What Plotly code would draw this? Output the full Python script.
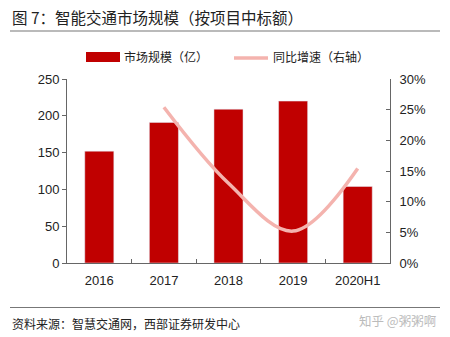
import plotly.graph_objects as go

categories = ["2016", "2017", "2018", "2019", "2020H1"]
market_size = [152, 191, 209, 220, 104]
growth_cats = ["2017", "2018", "2019", "2020H1"]
growth_rate = [25.4, 13.0, 5.2, 15.4]
left_ticks = [0, 50, 100, 150, 200, 250]
right_ticks = [0, 5, 10, 15, 20, 25, 30]
right_labels = [f"{v}%" for v in right_ticks]

BAR = "#C00000"
LINE = "#F4B3AE"
NUM_FONT = "Liberation Sans, Arial, sans-serif"
CJK = "Noto Sans CJK SC, sans-serif"

fig = go.Figure()
fig.add_trace(go.Bar(x=categories, y=market_size, marker_color=BAR, width=0.45,
                     name="市场规模（亿）", yaxis="y"))
fig.add_trace(go.Scatter(x=growth_cats, y=growth_rate, mode="lines",
                         line=dict(color=LINE, width=3.5, shape="spline", smoothing=1.0),
                         name="同比增速（右轴）", yaxis="y2"))

fig.update_layout(
    width=450, height=337,
    margin=dict(l=67, r=60, t=79, b=74),
    paper_bgcolor="white", plot_bgcolor="white",
    showlegend=False,
    font=dict(family=NUM_FONT, size=13, color="#222"),
    xaxis=dict(type="category", range=[-0.5, 4.5], showline=True, linecolor="#666",
               linewidth=1, ticks="inside", ticklen=4, tickcolor="#666",
               tickson="boundaries", showgrid=False, ticklabelstandoff=5,
               tickfont=dict(size=13, color="#222")),
    yaxis=dict(range=[0, 250], tickvals=left_ticks, showline=True, linecolor="#666",
               linewidth=1, ticks="outside", ticklen=4, tickcolor="#666",
               showgrid=False, zeroline=False, tickfont=dict(size=13, color="#222")),
    yaxis2=dict(range=[0, 30], tickvals=right_ticks, ticktext=right_labels,
                overlaying="y", side="right", showline=True, linecolor="#666",
                linewidth=1, ticks="inside", ticklen=4, tickcolor="#666",
                showgrid=False, zeroline=False, ticklabelstandoff=6,
                tickfont=dict(size=13, color="#222")),
)

shapes = [
    dict(type="line", xref="paper", yref="paper", x0=-57/323, x1=373/323, y0=(263-31)/184, y1=(263-31)/184,
         line=dict(color="#777", width=1.2)),
    dict(type="line", xref="paper", yref="paper", x0=-57/323, x1=373/323, y0=(263-307.5)/184, y1=(263-307.5)/184,
         line=dict(color="#777", width=1.2)),
    dict(type="rect", xref="paper", yref="paper", x0=(86-67)/323, x1=(120-67)/323,
         y0=(263-62)/184, y1=(263-52)/184, fillcolor=BAR, line=dict(width=0)),
    dict(type="line", xref="paper", yref="paper", x0=(234-67)/323, x1=(268-67)/323,
         y0=(263-58)/184, y1=(263-58)/184, line=dict(color=LINE, width=3.5)),
]
fig.update_layout(shapes=shapes)

annotations = [
    dict(text="图 7：智能交通市场规模（按项目中标额）", xref="paper", yref="paper",
         x=-57/323, y=(263-17)/184, xanchor="left", yanchor="middle", showarrow=False,
         font=dict(family=CJK, size=15.5, color="#222")),
    dict(text="市场规模（亿）", xref="paper", yref="paper", x=(122-67)/323, y=(263-57)/184,
         xanchor="left", yanchor="middle", showarrow=False, font=dict(family=CJK, size=12, color="#222")),
    dict(text="同比增速（右轴）", xref="paper", yref="paper", x=(271-67)/323, y=(263-57)/184,
         xanchor="left", yanchor="middle", showarrow=False, font=dict(family=CJK, size=12, color="#222")),
    dict(text="资料来源：智慧交通网，西部证券研发中心", xref="paper", yref="paper",
         x=-57/323, y=(263-323)/184, xanchor="left", yanchor="middle", showarrow=False,
         font=dict(family=CJK, size=12, color="#222")),
    dict(text="知乎 @粥粥啊", xref="paper", yref="paper",
         x=(438-67)/323, y=(263-320)/184, xanchor="right", yanchor="middle", showarrow=False,
         font=dict(family=CJK, size=12.5, color="#bbb")),
]
fig.update_layout(annotations=annotations)

fig.write_html("out.html")
